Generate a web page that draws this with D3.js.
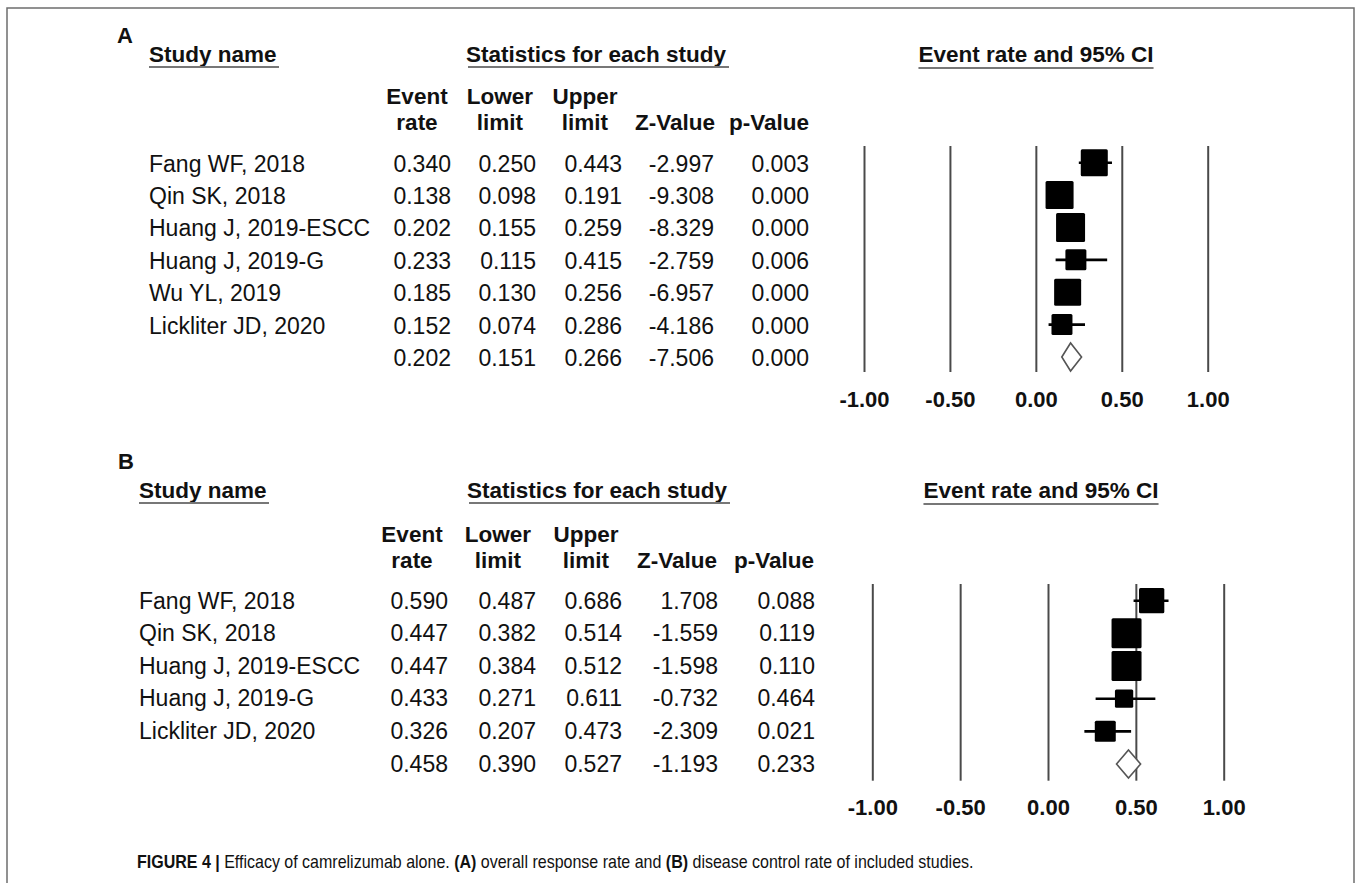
<!DOCTYPE html>
<html>
<head>
<meta charset="utf-8">
<script src="https://cdn.jsdelivr.net/npm/d3@7"></script>
<style>
    body { margin: 0; background: #fff; }
    text { font-family: "Liberation Sans", Arial, sans-serif; fill: #111; }
    .bold { font-weight: bold; }
</style>
</head>
<body>
<div id="forest"></div>
<script>

// ---------------------------------------------------------------------------
// DATA (panel A: overall response rate, panel B: disease control rate)

var studiesA = ["Fang WF, 2018", "Qin SK, 2018", "Huang J, 2019-ESCC", "Huang J, 2019-G", "Wu YL, 2019", "Lickliter JD, 2020"];
var rateA  = [0.340, 0.138, 0.202, 0.233, 0.185, 0.152, 0.202];
var lowerA = [0.250, 0.098, 0.155, 0.115, 0.130, 0.074, 0.151];
var upperA = [0.443, 0.191, 0.259, 0.415, 0.256, 0.286, 0.266];
var zA     = [-2.997, -9.308, -8.329, -2.759, -6.957, -4.186, -7.506];
var pA     = [0.003, 0.000, 0.000, 0.006, 0.000, 0.000, 0.000];
var weightA = [18.4, 19.8, 21.2, 11.1, 18.4, 11.1];

var studiesB = ["Fang WF, 2018", "Qin SK, 2018", "Huang J, 2019-ESCC", "Huang J, 2019-G", "Lickliter JD, 2020"];
var rateB  = [0.590, 0.447, 0.447, 0.433, 0.326, 0.458];
var lowerB = [0.487, 0.382, 0.384, 0.271, 0.207, 0.390];
var upperB = [0.686, 0.514, 0.512, 0.611, 0.473, 0.527];
var zB     = [1.708, -1.559, -1.598, -0.732, -2.309, -1.193];
var pB     = [0.088, 0.119, 0.110, 0.464, 0.021, 0.233];
var weightB = [19.9, 28.0, 28.0, 10.4, 13.7];

var tickValues = [-1, -0.5, 0, 0.5, 1];
var headTop = ["Event", "Lower", "Upper", "", ""];
var headBottom = ["rate", "limit", "limit", "Z-Value", "p-Value"];

var W = 1355, H = 883;

var svg = d3.select("#forest").append("svg")
    .attr("width", W)
    .attr("height", H);

// frame round the figure
svg.append("path")
    .attr("d", "M7," + H + "V8H1354V" + H)
    .attr("fill", "none")
    .attr("stroke", "#6e6e6e")
    .attr("stroke-width", 1.5);

function underline(x1, x2, y) {
    svg.append("line")
        .attr("x1", x1).attr("x2", x2)
        .attr("y1", y).attr("y2", y)
        .attr("stroke", "#777")
        .attr("stroke-width", 2);
}

// ---------------------------------------------------------------------------
// ONE FOREST PANEL

function forest(p) {
    var n = p.studies.length;       // studies, the summary row comes after them
    var x = d3.scaleLinear().domain([-1, 1]).range(p.xRange);
    var y = d3.scalePoint().domain(d3.range(n + 1)).range(p.yRange);
    var side = d3.scaleSqrt().domain([0, d3.max(p.weight)]).range([0, p.maxSide]);

    svg.append("text").attr("class", "bold")
        .attr("x", p.letterX).attr("y", p.letterY)
        .style("font-size", "22px")
        .text(p.letter);

    // titles
    svg.append("text").attr("class", "bold")
        .attr("x", p.nameX).attr("y", p.titleY)
        .style("font-size", "22.5px")
        .text("Study name");
    underline(p.nameX, p.nameX + 130, p.titleY + 5);

    svg.append("text").attr("class", "bold")
        .attr("x", p.statsX).attr("y", p.titleY)
        .attr("text-anchor", "middle")
        .style("font-size", "22.5px")
        .text("Statistics for each study");
    underline(p.statsX - 128, p.statsX + 133, p.titleY + 5);

    var ciTitle = svg.append("text").attr("class", "bold")
        .attr("x", p.ciX).attr("y", p.titleY)
        .attr("text-anchor", "middle")
        .style("font-size", "22.5px")
        .text("Event rate and 95% CI");
    var bb = ciTitle.node().getBBox();
    underline(bb.x, bb.x + bb.width, p.titleY + 6);

    // column headers
    p.headX.forEach(function (cx, i) {
        svg.append("text").attr("class", "bold")
            .attr("x", cx).attr("y", p.headY)
            .attr("text-anchor", "middle")
            .style("font-size", "22.5px")
            .text(headTop[i]);
        svg.append("text").attr("class", "bold")
            .attr("x", cx).attr("y", p.headY + 26)
            .attr("text-anchor", "middle")
            .style("font-size", "22.5px")
            .text(headBottom[i]);
    });

    // table rows
    var rows = d3.range(n + 1).map(function (i) {
        return {
            i: i,
            name: i < n ? p.studies[i] : "",
            vals: [p.rate[i].toFixed(3), p.lower[i].toFixed(3), p.upper[i].toFixed(3),
                   p.z[i].toFixed(3), p.pv[i].toFixed(3)]
        };
    });

    svg.selectAll(null).data(rows).enter()
        .append("text")
        .attr("x", p.nameX)
        .attr("y", function (d) { return y(d.i) + p.base; })
        .style("font-size", "23px")
        .text(function (d) { return d.name; });

    rows.forEach(function (r) {
        svg.selectAll(null).data(r.vals).enter()
            .append("text")
            .attr("x", function (d, j) { return p.numRight[j]; })
            .attr("y", y(r.i) + p.base)
            .attr("text-anchor", "end")
            .style("font-size", "23px")
            .text(function (d) { return d; });
    });

    // vertical reference lines with the tick labels under them
    var axis = d3.axisBottom(x)
        .tickValues(tickValues)
        .tickSize(-(p.lineY[1] - p.lineY[0]))
        .tickPadding(19)
        .tickFormat(function (d) { return d.toFixed(2); });

    var g = svg.append("g")
        .attr("transform", "translate(0," + p.lineY[1] + ")")
        .call(axis);
    g.select(".domain").remove();
    g.selectAll(".tick line").attr("stroke", "#4a4a4a").attr("stroke-width", 2);
    g.selectAll(".tick text")
        .attr("class", "bold")
        .style("font-size", "22px")
        .style("font-family", "'Liberation Sans', Arial, sans-serif")
        .attr("fill", "#111");

    // confidence intervals and boxes
    var st = d3.range(n);
    svg.selectAll(null).data(st).enter()
        .append("line")
        .attr("x1", function (i) { return x(p.lower[i]); })
        .attr("x2", function (i) { return x(p.upper[i]); })
        .attr("y1", function (i) { return y(i); })
        .attr("y2", function (i) { return y(i); })
        .attr("stroke", "#000")
        .attr("stroke-width", 2.6);

    svg.selectAll(null).data(st).enter()
        .append("rect")
        .attr("x", function (i) { return x(p.rate[i]) - side(p.weight[i]) / 2; })
        .attr("y", function (i) { return y(i) - side(p.weight[i]) / 2; })
        .attr("width", function (i) { return side(p.weight[i]); })
        .attr("height", function (i) { return side(p.weight[i]); })
        .attr("rx", 1.5)
        .attr("fill", "#000");

    // summary diamond
    var yc = y(n), hh = 14;
    svg.append("path")
        .attr("d", "M" + x(p.lower[n]) + "," + yc +
                   "L" + x(p.rate[n]) + "," + (yc - hh) +
                   "L" + x(p.upper[n]) + "," + yc +
                   "L" + x(p.rate[n]) + "," + (yc + hh) + "Z")
        .attr("fill", "#fff")
        .attr("stroke", "#555")
        .attr("stroke-width", 1.6);
}

forest({
    letter: "A", letterX: 117, letterY: 43,
    studies: studiesA, rate: rateA, lower: lowerA, upper: upperA, z: zA, pv: pA, weight: weightA,
    nameX: 149, statsX: 596, ciX: 1036, titleY: 62, headY: 104,
    headX: [417, 500, 585, 675, 769],
    numRight: [451, 536, 622, 714, 809],
    xRange: [864, 1207.7], yRange: [162.7, 357], base: 9,
    lineY: [146, 372], maxSide: 29
});

forest({
    letter: "B", letterX: 118, letterY: 469,
    studies: studiesB, rate: rateB, lower: lowerB, upper: upperB, z: zB, pv: pB, weight: weightB,
    nameX: 139, statsX: 597, ciX: 1041, titleY: 498, headY: 541.7,
    headX: [412, 498, 586, 677, 774],
    numRight: [448, 536, 622, 718, 815],
    xRange: [872.3, 1223.7], yRange: [600.7, 764], base: 7.8,
    lineY: [584, 780.7], maxSide: 30
});

// ---------------------------------------------------------------------------
// CAPTION (narrow face: the text is squeezed horizontally)

var cap = svg.append("text")
    .attr("transform", "translate(137,868) scale(0.89,1)")
    .style("font-size", "18px");
cap.append("tspan").style("font-weight", "bold").text("FIGURE 4 | ");
cap.append("tspan").text("Efficacy of camrelizumab alone. ");
cap.append("tspan").style("font-weight", "bold").text("(A)");
cap.append("tspan").text(" overall response rate and ");
cap.append("tspan").style("font-weight", "bold").text("(B)");
cap.append("tspan").text(" disease control rate of included studies.");

</script>
</body>
</html>
